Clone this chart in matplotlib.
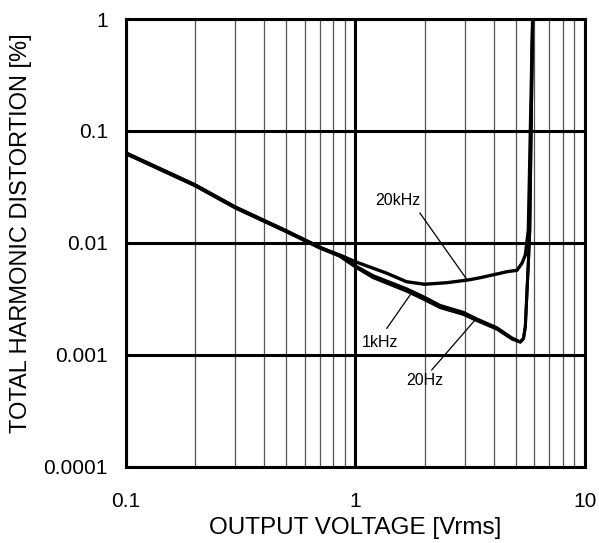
import numpy as np
import matplotlib
matplotlib.use('Agg')
import matplotlib.pyplot as plt

# curve data (Vrms, THD %)
v_20k = [0.1, 0.2, 0.3, 0.5, 0.7, 0.856, 1.0, 1.37, 1.67, 2.0, 2.5, 3.11, 3.5,
         4.28, 4.57, 5.06, 5.32, 5.5, 5.58, 5.67, 5.92]
thd_20k = [0.063, 0.0327, 0.0207, 0.0127, 0.0091, 0.0078, 0.0068, 0.00537, 0.00451,
           0.00428, 0.00442, 0.00468, 0.0049, 0.00537, 0.00554, 0.0057, 0.0066,
           0.0078, 0.0099, 0.013, 1.0]

v_1k = [0.1, 0.2, 0.3, 0.5, 0.7, 0.856, 1.0, 1.196, 1.67, 2.0, 2.34, 2.96, 3.38,
        4.14, 4.81, 5.23, 5.4, 5.5, 5.58, 5.67, 5.75, 5.92]
thd_1k = [0.064, 0.0332, 0.021, 0.0129, 0.0092, 0.0077, 0.00625, 0.0051, 0.0039,
          0.00328, 0.00277, 0.0024, 0.0021, 0.00175, 0.00142, 0.00131, 0.00141,
          0.00178, 0.0033, 0.0066, 0.013, 1.0]

v_20 = [0.1, 0.2, 0.3, 0.5, 0.7, 0.856, 1.0, 1.196, 1.67, 2.0, 2.34, 2.96, 3.38,
        4.14, 4.81, 5.23, 5.4, 5.5, 5.58, 5.67, 5.75, 5.92]
thd_20 = [0.0625, 0.0324, 0.0205, 0.0126, 0.009, 0.0076, 0.0061, 0.0049, 0.00372,
          0.00312, 0.00265, 0.0023, 0.00203, 0.0017, 0.00139, 0.0013, 0.0014,
          0.00178, 0.0033, 0.0066, 0.013, 1.0]

labels = ['20kHz', '1kHz', '20Hz']
label_xy = [(1.53, 0.0242), (1.28, 0.0013), (2.01, 0.000586)]
line_start = [(1.91, 0.0185), (1.37, 0.00173), (2.15, 0.000735)]
line_end = [(3.07, 0.00468), (1.73, 0.00343), (3.32, 0.00205)]

yticks = [0.0001, 0.001, 0.01, 0.1, 1]
ytick_labels = ['0.0001', '0.001', '0.01', '0.1', '1']
xticks = [0.1, 1, 10]
xtick_labels = ['0.1', '1', '10']

plt.rcParams['font.family'] = ['Liberation Sans', 'DejaVu Sans']

fig = plt.figure(figsize=(5.99, 5.43), dpi=100)
ax = fig.add_axes([0.2104, 0.140, 0.766, 0.825])
ax.set_xscale('log')
ax.set_yscale('log')
ax.set_xlim(0.1, 10)
ax.set_ylim(0.0001, 1)

# grid
for x in [m * d for d in [0.1, 1] for m in range(2, 10)]:
    ax.axvline(x, color='#555555', lw=0.9, zorder=1)
for x in xticks:
    ax.axvline(x, color='black', lw=2.2, zorder=1)
for y in yticks:
    ax.axhline(y, color='black', lw=2.2, zorder=1)

ax.plot(v_20k, thd_20k, color='black', lw=2.4, zorder=3)
ax.plot(v_1k, thd_1k, color='black', lw=2.2, zorder=3)
ax.plot(v_20, thd_20, color='black', lw=2.2, zorder=3)

for lab, (tx, ty), (sx, sy), (ex, ey) in zip(labels, label_xy, line_start, line_end):
    ax.text(tx, ty, lab, fontsize=11.5, ha='center', va='center')
    ax.plot([sx, ex], [sy, ey], color='black', lw=0.9, zorder=4)

ax.set_xticks(xticks)
ax.set_xticklabels(xtick_labels)
ax.set_yticks(yticks)
ax.set_yticklabels(ytick_labels)
ax.minorticks_off()
ax.tick_params(length=0, labelsize=15)
ax.tick_params(axis='x', pad=18)
ax.tick_params(axis='y', pad=13)
for s in ax.spines.values():
    s.set_linewidth(2.2)

ax.set_xlabel('OUTPUT VOLTAGE [Vrms]', fontsize=17.5, labelpad=4)
ax.set_ylabel('TOTAL HARMONIC DISTORTION [%]', fontsize=17)
ax.yaxis.set_label_coords(-0.204, 0.522)

fig.savefig('out.png', dpi=100)
